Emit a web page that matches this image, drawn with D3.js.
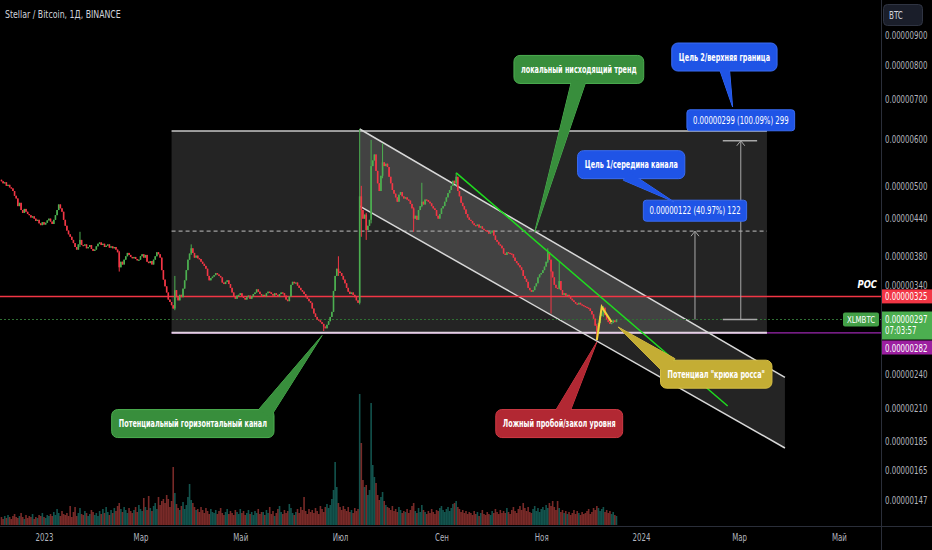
<!DOCTYPE html>
<html><head><meta charset="utf-8">
<script src="https://cdn.jsdelivr.net/npm/d3@7"></script>
<style>
html,body{margin:0;padding:0;background:#000;}
svg{display:block;}
text{font-family:"Liberation Sans Narrow","DejaVu Sans Condensed","Roboto Condensed","Liberation Sans",sans-serif;}
</style></head><body>
<svg id="c" width="932" height="550"></svg>
<script>
// ---------------- DATA (prices in 1e-8 BTC) ----------------
const title = "Stellar / Bitcoin, 1Д, BINANCE";
const startDate = "2022-12-06";
const firstOpen = 512;
const closes = [
 509,505,507,500,502,497,495,490,481,476,
 462,468,455,450,457,452,448,446,442,444,
 440,436,438,432,429,434,430,433,437,440,
 435,431,438,446,455,465,458,452,438,428,
 420,414,410,405,400,394,390,398,405,397,
 396,398,392,394,397,391,388,390,395,399,
 401,397,399,394,396,398,393,395,392,394,
 390,386,364,372,368,375,380,385,382,379,
 377,379,376,374,375,380,383,378,382,372,
 370,373,368,375,380,386,383,378,360,347,
 338,330,321,318,314,310,333,324,320,327,
 324,335,346,360,375,384,392,385,378,381,
 377,376,372,369,366,362,352,346,349,351,
 353,356,354,352,350,343,341,344,346,341,
 336,330,325,322,326,327,329,325,323,321,
 324,326,322,325,328,330,334,331,328,326,
 327,325,329,331,330,328,326,329,327,325,
 328,330,329,326,321,319,325,340,344,342,
 343,339,336,333,331,328,324,322,319,317,
 310,304,300,297,296,294,292,289,287,291,
 295,300,306,332,352,362,358,356,352,347,
 342,336,331,328,330,327,324,320,317,480,
 455,440,447,421,428,438,540,552,565,530,
 505,490,520,548,540,545,538,518,505,492,
 485,478,470,483,488,480,476,478,474,472,
 466,458,440,445,438,455,462,470,465,474,
 473,470,467,462,458,455,445,440,448,458,
 462,470,478,486,492,500,510,505,518,490,
 480,468,462,456,448,442,438,436,432,429,
 428,430,425,427,423,421,420,418,415,417,
 420,412,405,402,398,396,392,384,382,386,
 385,384,383,378,373,370,367,364,360,352,
 348,344,336,333,331,333,338,342,350,354,
 356,360,365,372,386,375,358,350,340,336,
 335,345,333,327,329,326,327,324,322,320,
 318,316,315,317,315,314,313,312,311,310,
 307,303,298,290,284,293,301,306,311,302,
 297,294,292,293,296,294,297
];
const volumes = [
 8,6,9,7,10,8,6,9,11,8,
 7,9,12,8,6,10,7,9,8,11,
 6,8,7,10,9,12,8,7,10,9,
 11,9,13,10,16,12,9,14,11,10,
 12,9,19,8,13,18,9,12,17,11,
 10,14,12,9,11,15,13,10,12,9,
 14,11,16,12,18,13,10,15,12,17,
 14,19,22,16,13,18,15,12,17,14,
 12,15,18,13,20,16,14,27,18,15,
 29,17,14,19,22,16,28,20,24,26,
 22,30,26,18,24,58,32,21,17,15,
 19,23,16,20,28,41,25,22,18,15,
 16,13,18,15,12,17,14,11,16,13,
 12,15,11,14,17,12,10,13,16,11,
 14,12,10,15,13,11,16,12,14,10,
 12,15,11,13,10,14,12,16,11,13,
 13,10,15,12,18,11,14,9,12,16,
 19,13,11,15,12,14,21,17,12,10,
 13,16,12,18,15,28,14,11,16,13,
 15,12,17,14,11,19,16,13,18,21,
 17,20,26,35,63,38,22,18,15,19,
 16,14,18,13,15,12,17,14,16,131,
 82,45,38,40,30,35,122,60,48,42,
 30,25,28,33,24,20,18,17,15,19,
 14,16,13,18,15,12,14,13,16,12,
 15,19,22,14,12,17,13,20,15,13,
 11,14,12,16,13,11,15,14,17,19,
 15,13,16,18,14,17,21,22,24,18,
 16,13,15,12,14,11,13,12,10,14,
 11,13,9,12,15,11,10,13,11,10,
 14,12,16,13,11,15,12,14,12,17,
 13,11,15,18,14,12,16,19,15,22,
 17,14,18,13,12,16,19,14,17,13,
 16,18,15,20,17,22,19,24,18,15,
 24,17,13,15,12,14,11,13,10,12,
 15,11,14,12,10,13,11,12,14,16,
 11,13,17,15,19,17,14,16,18,13,
 15,12,14,11,13,10,9
];
// notable wicks: [date, high, low]
const wicks = [
 ["2023-01-23",418,394],["2023-02-16",388,358],["2023-03-22",352,308],["2023-04-01",398,382],
 ["2023-06-21",292,284],["2023-06-30",380,352],["2023-07-13",624,315],["2023-07-14",500,410],
 ["2023-07-17",450,405],["2023-07-20",598,432],["2023-07-27",590,515],["2023-08-15",460,418],
 ["2023-08-20",506,460],["2023-09-10",526,500],["2023-11-05",392,370],["2023-11-07",358,304],
 ["2023-11-12",372,334],["2023-12-05",292,274],["2023-12-09",313,300]
];
const priceTicks = [900,800,700,600,500,440,380,340,240,210,185,165,147];
const timeTicks = ["2023-01-01","2023-03-01","2023-05-01","2023-07-01","2023-09-01","2023-11-01","2024-01-01","2024-03-01","2024-05-01"];
const timeTickLabels = ["2023","Мар","Май","Июл","Сен","Ноя","2024","Мар","Май"];
const pocPrice = 325, lastPrice = 297, levelPrice = 282;
const lastTime = "07:03:57";
const symbol = "XLMBTC";
const rangeBox = {from:"2023-03-20", to:"2024-03-18", top:619, bottom:282, mid:419};
const channel = {from:"2023-07-13", to:"2024-03-29", upper:[624,237], lower:[462,180]};
const trendLine = [["2023-09-10",526],["2024-02-23",212]];
const hook = [["2023-12-05",274],["2023-12-08",312],["2023-12-14",294]];
const targets = [
 {date:"2024-02-03", from:297, to:419, label:"0.00000122 (40.97%) 122"},
 {date:"2024-03-02", from:297, to:596, label:"0.00000299 (100.09%) 299", ticks:["2024-02-20","2024-03-12"]}
];
const callouts = [
 {text:"локальный нисходящий тренд", at:["2023-11-24",787], tip:["2023-10-28",417.6], kind:"green", base:[0.5,0.9], hw:7},
 {text:"Цель 2/верхняя граница", at:["2024-02-21",826], tip:["2024-02-26",680], kind:"blue", base:[0.5,0.9], hw:5},
 {text:"Цель 1/середина канала", at:["2023-12-26",543], tip:["2024-01-21",470], kind:"blue", base:[0.45,0.9], hw:5},
 {text:"Потенциальный горизонтальный канал", at:["2023-04-02",198], tip:["2023-06-20",279], kind:"green", base:[0.94,0.15], hw:7},
 {text:"Ложный пробой/закол уровня", at:["2023-11-12",198], tip:["2023-12-05",272], kind:"red", base:[0.52,0.15], hw:7},
 {text:"Потенциал \"крюка росса\"", at:["2024-02-16",240], tip:["2023-12-18",288.5], kind:"yellow", base:[0.08,0.2], hw:9}
];

// ---------------- STYLE ----------------
const UP = "#4caf50", DOWN = "#f23645";
const VUP = "rgba(38,166,154,0.5)", VDOWN = "rgba(239,83,80,0.5)";
const kinds = {
 green:{fill:"#388e3c", stroke:"#4caf50"},
 blue:{fill:"#1f54e6", stroke:"#3a6cf2"},
 red:{fill:"#b22833", stroke:"#cf3a45"},
 yellow:{fill:"#c4ad34", stroke:"#d6be45"}
};
const AXC = "#b2b5be";
// condense text horizontally (TradingView uses a narrow UI font)
function squeeze(sel, f) {
  sel.each(function() {
    const xa = parseFloat(this.getAttribute("x") || 0);
    this.setAttribute("x", 0);
    this.setAttribute("transform", `translate(${xa},0) scale(${f},1)`);
  });
  return sel;
}

// ---------------- CHART ----------------
const W = 932, H = 550, plotR = 881, plotB = 526;
const D = s => new Date(s);
const svg = d3.select("#c");
svg.append("rect").attr("width",W).attr("height",H).attr("fill","#000");
svg.append("defs").append("clipPath").attr("id","plot")
  .append("rect").attr("x",0).attr("y",0).attr("width",plotR).attr("height",plotB);

const x = d3.scaleUtc().domain([D("2023-01-01"), D("2024-01-01")]).range([44, 641]);
const y = d3.scaleLog().domain([147, 900]).range([500, 35]);
const vy = d3.scaleLinear().domain([0, 140]).range([525, 385]);

const t0 = D(startDate);
const candles = closes.map((c,i) => {
  const o = i === 0 ? firstOpen : closes[i-1];
  return {date: d3.utcDay.offset(t0, i), o, c, h: Math.max(o,c), l: Math.min(o,c), v: volumes[i] || 0};
});
wicks.forEach(([ds,h,l]) => {
  const t = +D(ds);
  const k = candles.find(d => +d.date === t);
  if (k) { k.h = Math.max(k.h, h); k.l = Math.min(k.l, l); }
});

const g = svg.append("g").attr("clip-path","url(#plot)");

// range rectangle
const rx0 = x(D(rangeBox.from)), rx1 = x(D(rangeBox.to));
g.append("rect").attr("x",rx0).attr("width",rx1-rx0).attr("y",y(rangeBox.top)).attr("height",y(rangeBox.bottom)-y(rangeBox.top))
 .attr("fill","rgba(255,255,255,0.14)");

// descending channel fill
const cx0 = x(D(channel.from)), cx1 = x(D(channel.to));
g.append("path").attr("d", d3.line()([[cx0,y(channel.upper[0])],[cx1,y(channel.upper[1])],[cx1,y(channel.lower[1])],[cx0,y(channel.lower[0])]]) + "Z")
 .attr("fill","rgba(255,255,255,0.14)");

// purple level
g.append("line").attr("x1",rx0).attr("x2",plotR).attr("y1",y(levelPrice)).attr("y2",y(levelPrice))
 .attr("stroke","#9c27b0").attr("stroke-width",1.2);
// range borders
g.append("line").attr("x1",rx0).attr("x2",rx1).attr("y1",y(rangeBox.top)).attr("y2",y(rangeBox.top)).attr("stroke","#c8c8c8").attr("stroke-width",1.5);
g.append("line").attr("x1",rx0).attr("x2",rx1).attr("y1",y(rangeBox.bottom)).attr("y2",y(rangeBox.bottom)).attr("stroke","#e2d2e2").attr("stroke-width",2);
g.append("line").attr("x1",rx0).attr("x2",rx1).attr("y1",y(rangeBox.mid)).attr("y2",y(rangeBox.mid))
 .attr("stroke","#a0a0a0").attr("stroke-width",1.2).attr("stroke-dasharray","4,3");

// channel lines
[channel.upper, channel.lower].forEach(p => {
  g.append("line").attr("x1",cx0).attr("x2",cx1).attr("y1",y(p[0])).attr("y2",y(p[1]))
   .attr("stroke","#d8d8d8").attr("stroke-width",1.5);
});

// POC line
g.append("line").attr("x1",0).attr("x2",plotR).attr("y1",y(pocPrice)).attr("y2",y(pocPrice))
 .attr("stroke","#f23645").attr("stroke-width",1.5);
// last price line
g.append("line").attr("x1",0).attr("x2",plotR).attr("y1",y(lastPrice)).attr("y2",y(lastPrice))
 .attr("stroke","#2f6e33").attr("stroke-width",1).attr("stroke-dasharray","2,2");

// volume
g.append("g").selectAll("rect").data(candles).join("rect")
 .attr("x", d => x(d.date) - 0.8).attr("width", 1.6)
 .attr("y", d => vy(d.v)).attr("height", d => vy(0) - vy(d.v))
 .attr("fill", d => d.c >= d.o ? VUP : VDOWN);

// candles
const cg = g.append("g");
cg.selectAll("line").data(candles).join("line")
 .attr("x1", d => x(d.date)).attr("x2", d => x(d.date))
 .attr("y1", d => y(d.h)).attr("y2", d => y(d.l))
 .attr("stroke", d => d.c >= d.o ? UP : DOWN).attr("stroke-width", 1);
cg.selectAll("rect").data(candles).join("rect")
 .attr("x", d => x(d.date) - 0.8).attr("width", 1.6)
 .attr("y", d => y(Math.max(d.o,d.c)))
 .attr("height", d => Math.max(1.2, Math.abs(y(d.o) - y(d.c))))
 .attr("fill", d => d.c >= d.o ? UP : DOWN);

// trend line
g.append("line").attr("x1",x(D(trendLine[0][0]))).attr("y1",y(trendLine[0][1]))
 .attr("x2",x(D(trendLine[1][0]))).attr("y2",y(trendLine[1][1]))
 .attr("stroke","#1fdc1f").attr("stroke-width",1.5);
// hook
g.append("path").attr("d", d3.line()(hook.map(p => [x(D(p[0])), y(p[1])])))
 .attr("fill","none").attr("stroke","#f0d33a").attr("stroke-width",2);

// target arrows
targets.forEach(t => {
  const xa = x(D(t.date)), y0 = y(t.from), y1 = y(t.to);
  g.append("line").attr("x1",xa).attr("x2",xa).attr("y1",y0).attr("y2",y1).attr("stroke","#a8a8a8").attr("stroke-width",1);
  g.append("path").attr("d",`M${xa-4},${y1+5}L${xa},${y1}L${xa+4},${y1+5}`).attr("fill","none").attr("stroke","#a8a8a8").attr("stroke-width",1);
  if (t.ticks) {
    const a = x(D(t.ticks[0])), b = x(D(t.ticks[1]));
    [y0,y1].forEach(yy => g.append("line").attr("x1",a).attr("x2",b).attr("y1",yy).attr("y2",yy).attr("stroke","#a8a8a8").attr("stroke-width",1.5));
  }
  const lt = svg.append("text").text(t.label).attr("font-size",10).attr("fill","#fff").attr("text-anchor","middle");
  const tw = lt.node().getComputedTextLength() * 0.77;
  const bh = 21, by = y1 - 10 - bh;
  svg.insert("rect", () => lt.node()).attr("x", xa - tw/2 - 6).attr("y", by).attr("width", tw + 12).attr("height", bh)
    .attr("rx",3).attr("fill","#1f54e6").attr("stroke","#3a6cf2");
  lt.attr("x", xa).attr("y", by + 14);
  squeeze(lt, 0.77);
});

// callouts
callouts.forEach(c => {
  const st = kinds[c.kind];
  const cxp = x(D(c.at[0])), cyp = y(c.at[1]);
  const grp = svg.append("g");
  const txt = grp.append("text").text(c.text).attr("font-size",10).attr("font-weight","bold").attr("fill","#fff").attr("text-anchor","middle");
  const tw = txt.node().getComputedTextLength() * 0.72;
  const bw = tw + 14, bh = 28;
  const bx = cxp - bw/2, by = cyp - bh/2;
  const B = [bx + c.base[0]*bw, by + c.base[1]*bh];
  const T = [x(D(c.tip[0])), y(c.tip[1])];
  const dx = T[0]-B[0], dy = T[1]-B[1], L = Math.hypot(dx,dy);
  const n = [-dy/L*c.hw, dx/L*c.hw];
  const tri = `M${B[0]+n[0]},${B[1]+n[1]}L${T[0]},${T[1]}L${B[0]-n[0]},${B[1]-n[1]}Z`;
  grp.insert("path", () => txt.node()).attr("d",tri).attr("fill",st.fill).attr("stroke",st.stroke).attr("stroke-width",1);
  grp.insert("rect", () => txt.node()).attr("x",bx).attr("y",by).attr("width",bw).attr("height",bh).attr("rx",6)
    .attr("fill",st.fill).attr("stroke",st.stroke).attr("stroke-width",1);
  grp.insert("path", () => txt.node()).attr("d",tri).attr("fill",st.fill);
  txt.attr("x", cxp).attr("y", cyp + 3.5);
  squeeze(txt, 0.72);
});

// POC text
squeeze(svg.append("text").text("POC").attr("x",877).attr("y",y(pocPrice)-8).attr("text-anchor","end")
 .attr("font-size",11).attr("font-weight","bold").attr("font-style","italic").attr("fill","#fff"), 0.85);

// symbol tag
const yl = y(lastPrice);
svg.append("rect").attr("x",843).attr("y",yl-7).attr("width",36).attr("height",14).attr("rx",2).attr("fill","#43a047");
squeeze(svg.append("text").text(symbol).attr("x",861).attr("y",yl+3.5).attr("text-anchor","middle").attr("font-size",9.5).attr("fill","#fff"), 0.82);

// separators
svg.append("line").attr("x1",plotR+0.5).attr("x2",plotR+0.5).attr("y1",0).attr("y2",H).attr("stroke","#2a2e39");
svg.append("line").attr("x1",0).attr("x2",W).attr("y1",plotB+0.5).attr("y2",plotB+0.5).attr("stroke","#2a2e39");

// price axis
const pa = svg.append("g").attr("transform",`translate(${plotR},0)`)
 .call(d3.axisRight(y).tickValues(priceTicks).tickFormat(v => (v*1e-8).toFixed(8)).tickSize(0).tickPadding(4));
pa.select(".domain").remove();
squeeze(pa.selectAll("text").attr("fill",AXC).attr("font-size",10).attr("font-family",null), 0.78);

// time axis
const ta = svg.append("g").attr("transform",`translate(0,${plotB})`)
 .call(d3.axisBottom(x).tickValues(timeTicks.map(D)).tickFormat((d,i) => timeTickLabels[i]).tickSize(0).tickPadding(8));
ta.select(".domain").remove();
squeeze(ta.selectAll("text").attr("fill",AXC).attr("font-size",10).attr("font-family",null), 0.78);

// axis price labels
const lab = (yc, h, fill, lines) => {
  svg.append("rect").attr("x",plotR+1).attr("y",yc).attr("width",W-plotR-1).attr("height",h).attr("fill",fill);
  lines.forEach((s,i) => squeeze(svg.append("text").text(s).attr("x",plotR+4).attr("y",yc+11+i*12).attr("font-size",10).attr("fill","#fff"), 0.78));
};
lab(y(pocPrice)-7, 14, "#f23645", [(pocPrice*1e-8).toFixed(8)]);
lab(yl-8, 28, "#4caf50", [(lastPrice*1e-8).toFixed(8), lastTime]);
lab(yl+21, 14, "#9c1fa0", [(levelPrice*1e-8).toFixed(8)]);

// BTC box
svg.append("rect").attr("x",883.5).attr("y",4.5).attr("width",39).attr("height",21).attr("rx",4).attr("fill","#1a1e2a").attr("stroke","#2f3442");
squeeze(svg.append("text").text("BTC").attr("x",889).attr("y",19).attr("font-size",10).attr("fill","#d1d4dc"), 0.8);

// title
squeeze(svg.append("text").text(title).attr("x",5).attr("y",18).attr("font-size",10.5).attr("fill","#d1d4dc"), 0.83);
</script>
</body></html>
